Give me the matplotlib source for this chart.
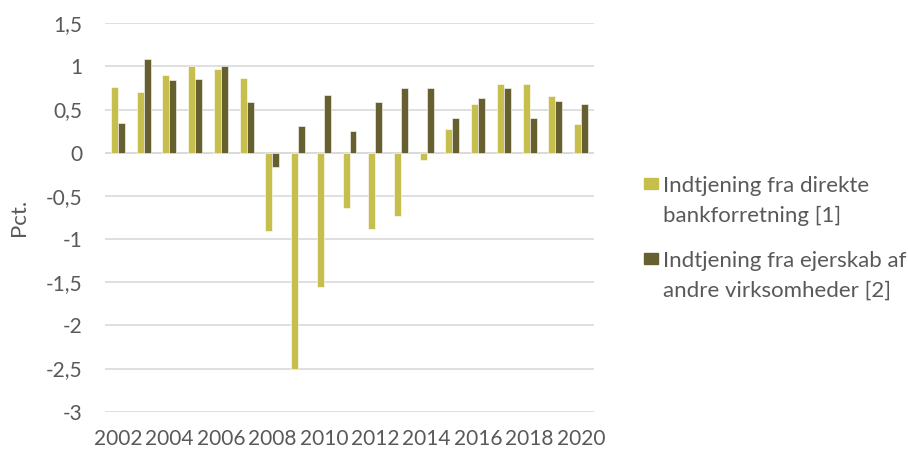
import matplotlib
matplotlib.use("Agg")
import matplotlib.pyplot as plt
from matplotlib.patches import Rectangle
import numpy as np

plt.rcParams['font.family'] = ['Lato', 'DejaVu Sans']

# Indtjening pr. år, pct.
years = list(range(2002, 2021))
direkte = [0.76, 0.70, 0.90, 1.01, 0.97, 0.86, -0.91, -2.51, -1.56, -0.645,
           -0.88, -0.735, -0.09, 0.27, 0.565, 0.79, 0.79, 0.655, 0.335]
ejerskab = [0.34, 1.08, 0.84, 0.855, 1.01, 0.59, -0.16, 0.305, 0.67, 0.25,
            0.585, 0.755, 0.745, 0.40, 0.635, 0.75, 0.40, 0.60, 0.565]
series_names = [["Indtjening fra direkte", "bankforretning [1]"],
                ["Indtjening fra ejerskab af", "andre virksomheder [2]"]]
yticks = [1.5, 1, 0.5, 0, -0.5, -1, -1.5, -2, -2.5, -3]

c_light = "#C6BF4E"
c_dark = "#666030"
txt = "#595959"
grid = "#D9D9D9"

W, H = 908, 450
fig = plt.figure(figsize=(W / 100, H / 100), dpi=100)
ax = fig.add_axes([105 / W, 1 - 411.7 / H, 489 / W, 388.5 / H])

x = np.arange(len(years))
w = 0.27
ax.bar(x - w / 2, direkte, w, color=c_light, edgecolor="white", linewidth=0.4, zorder=3)
ax.bar(x + w / 2, ejerskab, w, color=c_dark, edgecolor="white", linewidth=0.4, zorder=3)

ax.set_xlim(-0.5, len(years) - 0.5)
ax.set_ylim(-3, 1.5)
ax.set_yticks(yticks)
ax.set_yticklabels([f"{v:g}".replace(".", ",") for v in yticks])
ax.yaxis.grid(True, color=grid, linewidth=1.2, zorder=0)
ax.axhline(0, color=grid, linewidth=1.2, zorder=1)
ax.set_xticks(x[::2])
ax.set_xticklabels([str(y) for y in years[::2]])
for s in ax.spines.values():
    s.set_visible(False)
ax.tick_params(length=0, labelsize=15, colors=txt)
ax.tick_params(axis="y", pad=16.5)
ax.tick_params(axis="x", pad=12.5)

fig.text(19 / W, 1 - 217 / H, "Pct.", rotation=90, fontsize=16, color=txt,
         ha="center", va="center")

# legend drawn by hand so the swatch sits on the first text line
for i, (lines, col) in enumerate(zip(series_names, [c_light, c_dark])):
    top = 178 + i * 75
    fig.patches.append(Rectangle((644 / W, 1 - (top + 11) / H), 14 / W, 11 / H,
                                 transform=fig.transFigure, color=col))
    for j, line in enumerate(lines):
        fig.text(663 / W, 1 - (top + 14 + j * 30) / H, line, fontsize=16,
                 color=txt, ha="left", va="baseline")

fig.savefig("out.png", dpi=100)
